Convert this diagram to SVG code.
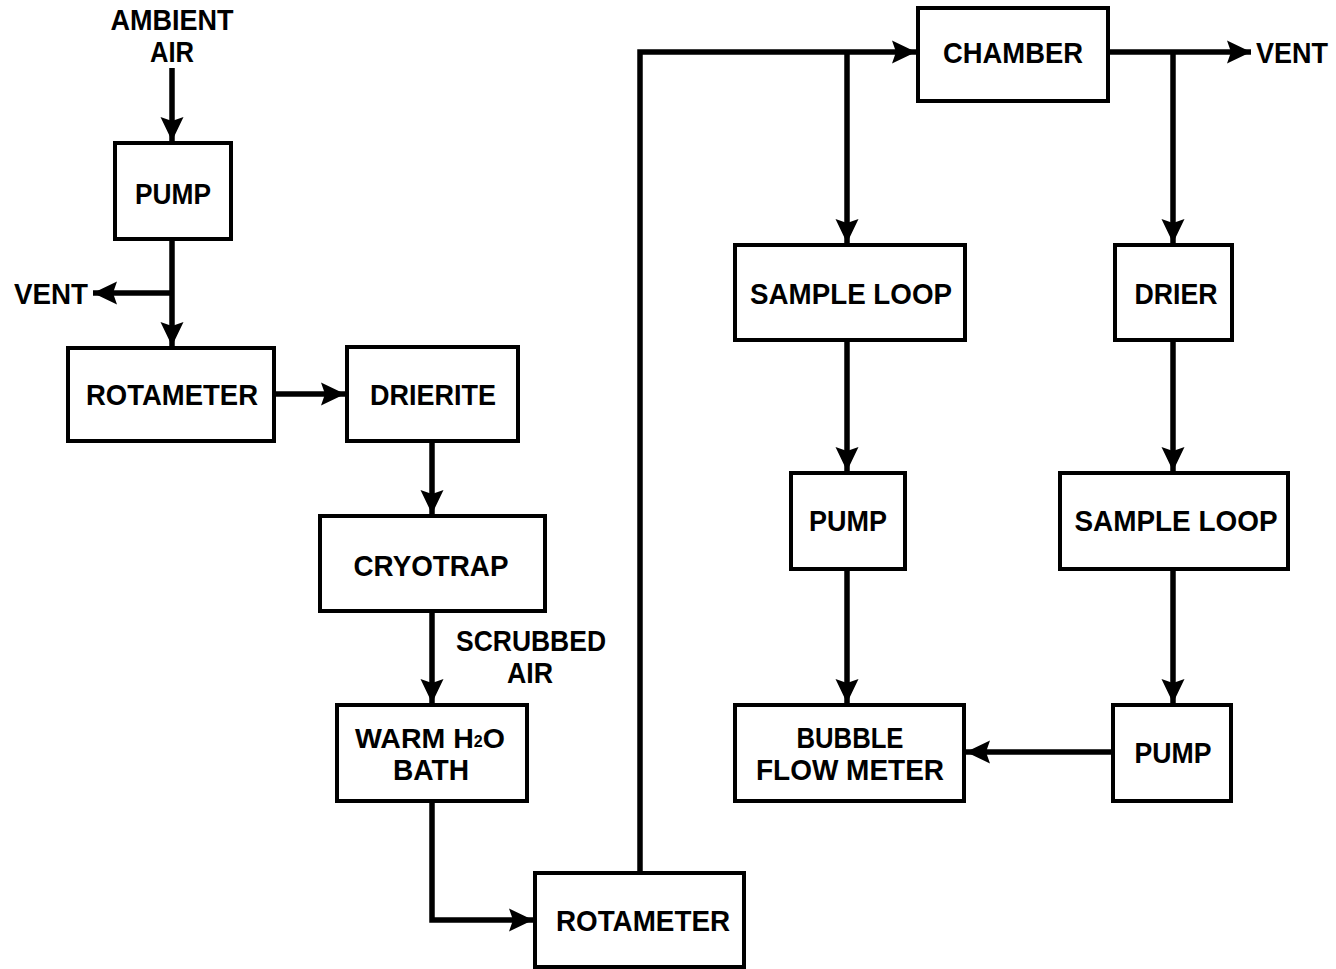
<svg xmlns="http://www.w3.org/2000/svg" width="1336" height="969" viewBox="0 0 1336 969">
<style>
.box{fill:#fff;stroke:#000;stroke-width:4}
.t{font-family:"Liberation Sans",Arial,sans-serif;font-weight:bold;font-size:30px;fill:#000;text-anchor:middle}
.s{text-anchor:start}
.sub{font-size:16px}
.c{fill:none;stroke:#000;stroke-width:5.5;stroke-linejoin:miter}
</style>
<defs>
<marker id="ah" markerUnits="userSpaceOnUse" markerWidth="26" markerHeight="26" viewBox="0 0 26 26" refX="24" refY="13" orient="auto">
<path d="M0,1.5 L24,13 L0,24.5 L4,13 Z" fill="#000"/>
</marker>
</defs>
<g id="connectors">
<path class="c" d="M172,68 V141" marker-end="url(#ah)"/>
<path class="c" d="M172,239 V346" marker-end="url(#ah)"/>
<path class="c" d="M172,293 H93" marker-end="url(#ah)"/>
<path class="c" d="M274,394 H345" marker-end="url(#ah)"/>
<path class="c" d="M432,441 V514" marker-end="url(#ah)"/>
<path class="c" d="M432,611 V703" marker-end="url(#ah)"/>
<path class="c" d="M432,801 V920 H533" marker-end="url(#ah)"/>
<path class="c" d="M640,873 V52 H916" marker-end="url(#ah)"/>
<path class="c" d="M847,52 V243" marker-end="url(#ah)"/>
<path class="c" d="M1108,52 H1251" marker-end="url(#ah)"/>
<path class="c" d="M1173,52 V243" marker-end="url(#ah)"/>
<path class="c" d="M847,340 V471" marker-end="url(#ah)"/>
<path class="c" d="M847,569 V703" marker-end="url(#ah)"/>
<path class="c" d="M1173,340 V471" marker-end="url(#ah)"/>
<path class="c" d="M1173,569 V703" marker-end="url(#ah)"/>
<path class="c" d="M1113,752 H966" marker-end="url(#ah)"/>
</g>
<g id="labels">
<text class="t" x="172" y="30" textLength="123" lengthAdjust="spacingAndGlyphs">AMBIENT</text>
<text class="t" x="172" y="62" textLength="44" lengthAdjust="spacingAndGlyphs">AIR</text>
<text class="t" x="51" y="304" textLength="74" lengthAdjust="spacingAndGlyphs">VENT</text>
<text class="t" x="1292" y="63" textLength="72" lengthAdjust="spacingAndGlyphs">VENT</text>
<text class="t" x="531" y="651" textLength="150" lengthAdjust="spacingAndGlyphs">SCRUBBED</text>
<text class="t" x="530" y="683" textLength="46" lengthAdjust="spacingAndGlyphs">AIR</text>
</g>
<g id="pump1"><rect class="box" x="115" y="143" width="116" height="96"/><text class="t" x="173" y="204" textLength="76" lengthAdjust="spacingAndGlyphs">PUMP</text></g>
<g id="rotameter1"><rect class="box" x="68" y="348" width="206" height="93"/><text class="t" x="172" y="405" textLength="172" lengthAdjust="spacingAndGlyphs">ROTAMETER</text></g>
<g id="drierite"><rect class="box" x="347" y="347" width="171" height="94"/><text class="t" x="433" y="405" textLength="126" lengthAdjust="spacingAndGlyphs">DRIERITE</text></g>
<g id="cryotrap"><rect class="box" x="320" y="516" width="225" height="95"/><text class="t" x="431" y="576" textLength="155" lengthAdjust="spacingAndGlyphs">CRYOTRAP</text></g>
<g id="warmbath"><rect class="box" x="337" y="705" width="190" height="96"/>
<text class="t s" x="355" y="748" style="font-size:28.5px">WARM H<tspan class="sub" baseline-shift="1">2</tspan>O</text>
<text class="t" x="431" y="780" textLength="76" lengthAdjust="spacingAndGlyphs">BATH</text></g>
<g id="rotameter2"><rect class="box" x="535" y="873" width="209" height="94"/><text class="t" x="643" y="931" textLength="174" lengthAdjust="spacingAndGlyphs">ROTAMETER</text></g>
<g id="chamber"><rect class="box" x="918" y="8" width="190" height="93"/><text class="t" x="1013" y="63" textLength="140" lengthAdjust="spacingAndGlyphs">CHAMBER</text></g>
<g id="sampleloop1"><rect class="box" x="735" y="245" width="230" height="95"/><text class="t" x="851" y="304" textLength="202" lengthAdjust="spacingAndGlyphs">SAMPLE LOOP</text></g>
<g id="drier"><rect class="box" x="1115" y="245" width="117" height="95"/><text class="t" x="1176" y="304" textLength="83" lengthAdjust="spacingAndGlyphs">DRIER</text></g>
<g id="pump2"><rect class="box" x="791" y="473" width="114" height="96"/><text class="t" x="848" y="531" textLength="78" lengthAdjust="spacingAndGlyphs">PUMP</text></g>
<g id="sampleloop2"><rect class="box" x="1060" y="473" width="228" height="96"/><text class="t" x="1176" y="531" textLength="203" lengthAdjust="spacingAndGlyphs">SAMPLE LOOP</text></g>
<g id="bubble"><rect class="box" x="735" y="705" width="229" height="96"/>
<text class="t" x="850" y="748" textLength="107" lengthAdjust="spacingAndGlyphs">BUBBLE</text>
<text class="t" x="850" y="780" textLength="188" lengthAdjust="spacingAndGlyphs">FLOW METER</text></g>
<g id="pump3"><rect class="box" x="1113" y="705" width="118" height="96"/><text class="t" x="1173" y="763" textLength="77" lengthAdjust="spacingAndGlyphs">PUMP</text></g>
</svg>
